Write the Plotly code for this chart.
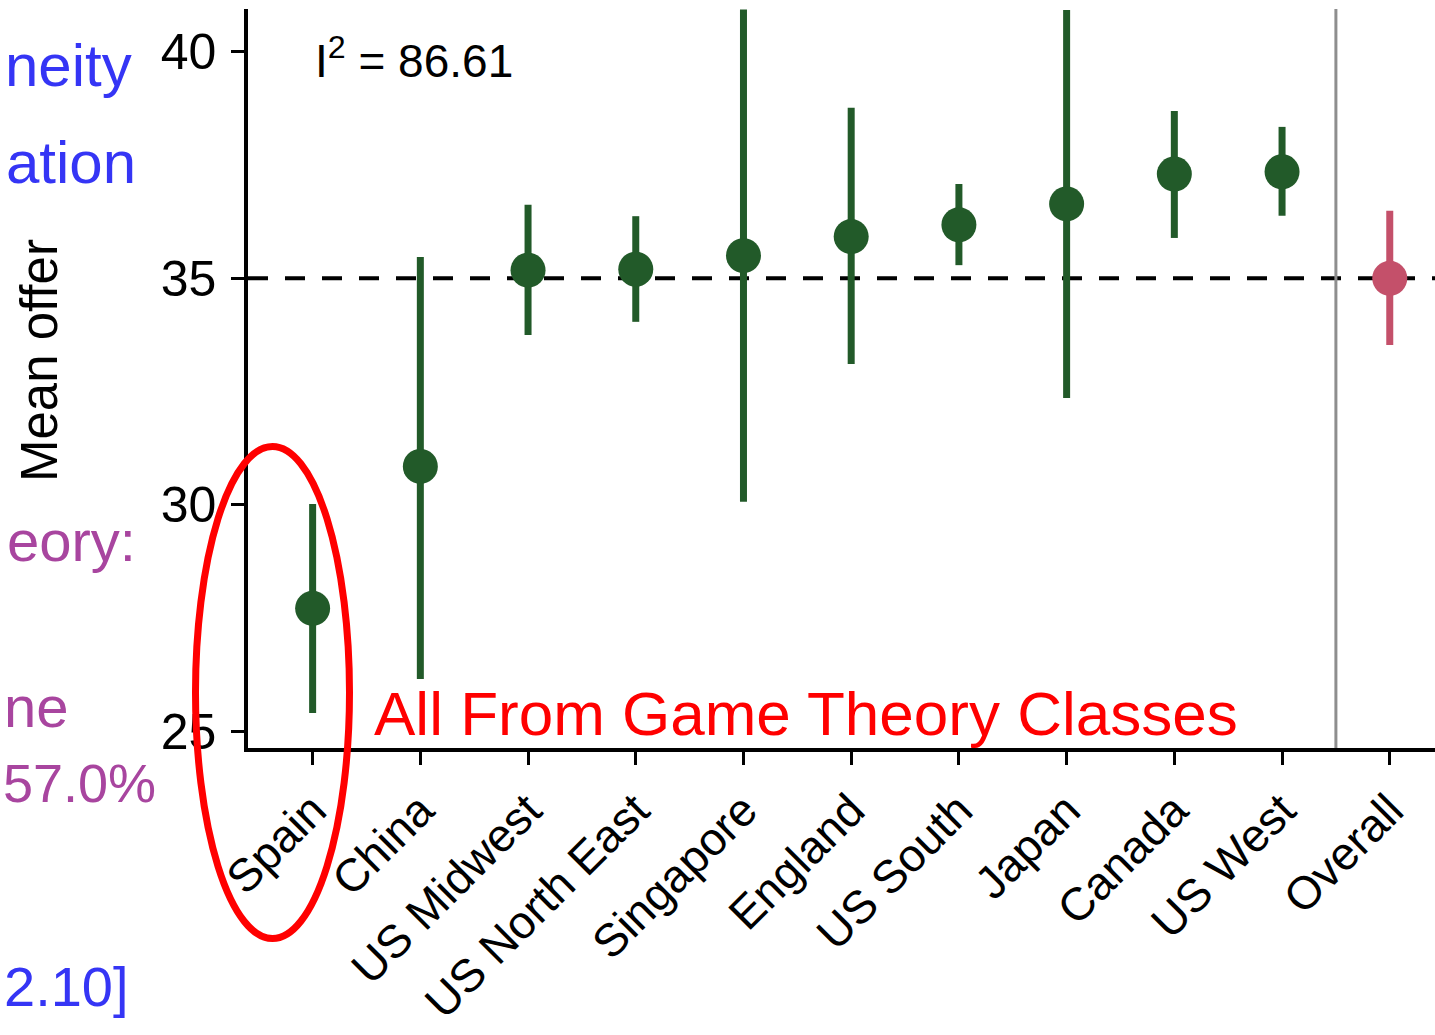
import numpy as np
import plotly.graph_objects as go

# Mean offer by sample, with 95% intervals
categories = ["Spain", "China", "US Midwest", "US North East", "Singapore",
              "England", "US South", "Japan", "Canada", "US West"]
means = [27.72, 30.85, 35.18, 35.20, 35.50, 35.92, 36.18, 36.64, 37.30, 37.35]
lower = [25.41, 26.16, 33.75, 34.04, 30.07, 33.11, 35.29, 32.36, 35.89, 36.38]
upper = [30.02, 35.47, 36.62, 36.37, 40.93, 38.76, 37.08, 40.92, 38.69, 38.34]

overall_label = "Overall"
overall_mean = [35.00]
overall_lower = [33.53]
overall_upper = [36.49]

i_squared = 86.61
reference_offer = 35.0
y_ticks = [25, 30, 35, 40]

# side-panel text fragments (slide text running into the figure)
side_texts = [
    ("neity", "#3535F5"),
    ("ation", "#3535F5"),
    ("eory:", "#A8459F"),
    ("ne", "#A8459F"),
    ("57.0%", "#A8459F"),
    ("2.10]", "#3535F5"),
]

GREEN = "#225A29"
ROSE = "#C4506A"
FONT = "Liberation Sans"

W, H = 1435, 1035
L, R, T, B = 248, 0, 9, 287
PW, PH = W - L - R, H - T - B


def px_x(px):
    return (px - L) / PW


def px_y(py):
    return (H - B - py) / PH


m = np.array(means)
fig = go.Figure()
fig.add_trace(go.Scatter(
    x=categories, y=means, mode="markers",
    marker=dict(size=35, color=GREEN, line=dict(width=0)),
    error_y=dict(type="data", symmetric=False,
                 array=np.array(upper) - m, arrayminus=m - np.array(lower),
                 color=GREEN, thickness=7, width=0),
    showlegend=False,
))
om = np.array(overall_mean)
fig.add_trace(go.Scatter(
    x=[overall_label], y=overall_mean, mode="markers",
    marker=dict(size=35, color=ROSE, line=dict(width=0)),
    error_y=dict(type="data", symmetric=False,
                 array=np.array(overall_upper) - om,
                 arrayminus=om - np.array(overall_lower),
                 color=ROSE, thickness=7, width=0),
    showlegend=False,
))

# reference line and separator before the pooled estimate
fig.add_shape(type="line", xref="paper", x0=0, x1=1, yref="y",
              y0=reference_offer, y1=reference_offer, layer="below",
              line=dict(color="black", width=4, dash="20px,17px"))
fig.add_shape(type="line", xref="x", x0=9.5, x1=9.5, yref="paper",
              y0=0, y1=1, layer="below",
              line=dict(color="#8E8E8E", width=3))

# highlight ellipse around the first sample
fig.add_shape(type="circle", xref="paper", yref="paper",
              x0=px_x(195.5), x1=px_x(349.5), y0=px_y(938.5), y1=px_y(446.5),
              line=dict(color="#FF0000", width=7))

annotations = [
    dict(text=f"I<sup>2</sup> = {i_squared:.2f}", xref="paper", yref="paper",
         x=px_x(313), y=px_y(58), xanchor="left", yanchor="middle",
         showarrow=False, font=dict(family=FONT, size=46, color="black")),
    dict(text="All From Game Theory Classes", xref="paper", yref="paper",
         x=px_x(372), y=px_y(713), xanchor="left", yanchor="middle",
         showarrow=False, font=dict(family=FONT, size=62, color="#FF0000")),
    dict(text="Mean offer", xref="paper", yref="paper", textangle=-90,
         x=px_x(39), y=px_y(361), xanchor="center", yanchor="middle",
         showarrow=False, font=dict(family=FONT, size=51, color="black")),
]

# (anchor x in px, anchor side, centre y in px, font size)
side_pos = [(134, "right", 66, 60), (138, "right", 162, 60),
            (138, "right", 540, 58), (2, "left", 706, 58),
            (158, "right", 783, 54), (131, "right", 986, 56)]
for (txt, col), (xp, anchor, yc, fs) in zip(side_texts, side_pos):
    annotations.append(dict(text=txt, xref="paper", yref="paper",
                            x=px_x(xp), y=px_y(yc), xanchor=anchor,
                            yanchor="middle", showarrow=False,
                            font=dict(family=FONT, size=fs, color=col)))

fig.update_layout(
    width=W, height=H,
    margin=dict(l=L, r=R, t=T, b=B, pad=0, autoexpand=False),
    paper_bgcolor="white", plot_bgcolor="white",
    font=dict(family=FONT, size=50, color="black"),
    annotations=annotations,
)
fig.update_xaxes(
    type="category", categoryorder="array",
    categoryarray=categories + [overall_label],
    range=[-0.6, 10.42], showgrid=False, zeroline=False, automargin=False,
    showline=True, linecolor="black", linewidth=3.5,
    ticks="outside", ticklen=13, tickwidth=3, tickcolor="black",
    tickangle=-45, tickfont=dict(family=FONT, size=46, color="black"),
)
fig.update_yaxes(
    range=[24.64, 40.94], tickvals=y_ticks, showgrid=False, zeroline=False,
    automargin=False,
    showline=True, linecolor="black", linewidth=3.5,
    ticks="outside", ticklen=13, tickwidth=3, tickcolor="black",
    ticklabelstandoff=5,
    tickfont=dict(family=FONT, size=50, color="black"),
)

fig.write_html("out.html")
